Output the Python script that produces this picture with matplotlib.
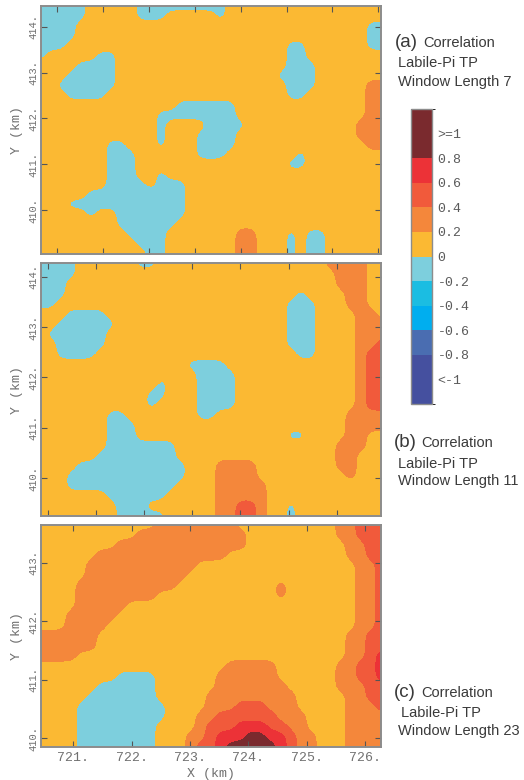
"""
Correlation maps, Labile-Pi vs TP, three window lengths
"""

import matplotlib
matplotlib.use('Agg')  # no display
import matplotlib.pyplot as plt
import numpy as np
from matplotlib.colors import ListedColormap, BoundaryNorm
from matplotlib.cm import ScalarMappable

# colour classes of the correlation
level_bounds = [-1.2, -0.8, -0.6, -0.4, -0.2, 0.0, 0.2, 0.4, 0.6, 0.8, 1.2]
level_colors = ['#45509f', '#4a6db1', '#00aeef', '#1bbde2', '#7dcfdd',
                '#fbb933', '#f4873b', '#f15a3b', '#ec3237', '#7a2a2e']
cbar_ticks = [-1.0, -0.8, -0.6, -0.4, -0.2, 0.0, 0.2, 0.4, 0.6, 0.8, 1.0]
cbar_labels = ['<-1', '-0.8', '-0.6', '-0.4', '-0.2', '0',
               '0.2', '0.4', '0.6', '0.8', '>=1']

# class code -> correlation value at a grid node
class_value = {'b': -0.1, 'y': 0.1, 'o': 0.3, 'r': 0.5, 'R': 0.7, 'D': 0.9}

# map extents in km (x0, x1, y0, y1)
extent_a = (719.64, 727.06, 409.06, 414.45)
extent_b = (719.86, 726.92, 409.25, 414.26)
extent_c = (720.45, 726.27, 409.86, 413.65)

xticks_a = [720, 721, 722, 723, 724, 725, 726, 727]
xticks_b = [720, 721, 722, 723, 724, 725, 726]
xticks_c = [721, 722, 723, 724, 725, 726]
yticks_a = [410, 411, 412, 413, 414]
yticks_b = [410, 411, 412, 413, 414]
yticks_c = [410, 411, 412, 413]

panel_tags = ['(a)', '(b)', '(c)']
window_lengths = [7, 11, 23]

# grids, top row first, west -> east
grid_a = [
    "bbbbb yyyyy bbbbb bbbby yyyyb yyyyy yyyyy",
    "bbbbb yyyyy bbbyy yyyby yyyyy yyyyy yyyyy",
    "bbbby yyyyy yyyyy yyyyy yyyyy yyyyy yyybb",
    "bbbby yyyyy yyyyy yyyyy yyyyy yyyyy yyybb",
    "bbbyy yyyyy yyyyy yyyyy yyyyy bbyyy yyybb",
    "byyyy ybbyy yyyyy yyyyy yyyyy bbyyy yyyyy",
    "yyyyb bbbyy yyyyy yyyyy yyyyy bbbyy yyyyy",
    "yyybb bbbyy yyyyy yyyyy yyyyb bbbyy yyyyy",
    "yybbb bbbyy yyyyy yyyyy yyyyy bbbyy yyyoo",
    "yyybb bbyyy yyyyy yyyyy yyyyy bbyyy yyyoo",
    "yyyyy yyyyy yyyyb bbbbb yyyyy yyyyy yyyoo",
    "yyyyy yyyyy yybbb bbbbb yyyyy yyyyy yyyoo",
    "yyyyy yyyyy yybyy yybbb byyyy yyyyy yyooo",
    "yyyyy yyyyy yybyy ybbbb yyyyy yyyyy yyooo",
    "yyyyy yybby yybyy ybbbb yyyyy yyyyy yyyoo",
    "yyyyy yybbb yyyyy ybbby yyyyy ybyyy yyyyy",
    "yyyyy yybbb yyyyy yyyyy yyyyy bbyyy yyyyy",
    "yyyyy yybbb yybyy yyyyy yyyyy yyyyy yyyyy",
    "yyyyy yybbb bybbb yyyyy yyyyy yyyyy yyyyy",
    "yyyyy bbbbb bbbbb yyyyy yyyyy yyyyy yyyyy",
    "yyybb bbbbb bbbbb yyyyy yyyyy yyyyy yyyyy",
    "yyyyy byybb bbbbb yyyyy yyyyy yyyyy yyyyy",
    "yyyyy yyybb bbbby yyyyy yyyyy yyyyy yyyyy",
    "yyyyy yyyyb bbbyy yyyyy ooyyy bybby yyyyy",
    "yyyyy yyyyy bbbyy yyyyy ooyyy bybby yyyyy",
    "yyyyy yyyyy ybbyy yyyyy ooyyy bybby yyyyy",
]

grid_b = [
    "bbbby yyyyy bbyyy yyyyy yyyyy yyyyo oooyy",
    "bbbby yyyyy yyyyy yyyyy yyyyy yyyyy oooyy",
    "bbbyy yyyyy yyyyy yyyyy yyyyy yyyyy oooyy",
    "bbbyy yyyyy yyyyy yyyyy yyyyy ybyyy yooyy",
    "bbyyy yyyyy yyyyy yyyyy yyyyy bbbyy yooyy",
    "yyybb bbyyy yyyyy yyyyy yyyyy bbbyy yyooy",
    "yybbb bbbyy yyyyy yyyyy yyyyy bbbyy yyooo",
    "ybbbb bbyyy yyyyy yyyyy yyyyy bbbyy yyooo",
    "yybbb bbyyy yyyyy yyyyy yyyyy bbbyy yyoor",
    "yybbb byyyy yyyyy yyyyy yyyyy ybbyy yyorr",
    "yyyyy yyyyy yyyyy bbbby yyyyy yyyyy yyorr",
    "yyyyy yyyyy yyyby ybbbb yyyyy yyyyy yyorr",
    "yyyyy yyyyy yybyy ybbbb yyyyy yyyyy yyorr",
    "yyyyy yyyyy ybbyy ybbbb yyyyy yyyyy yyorr",
    "yyyyy yyyyy ybyyy ybbbb yyyyy yyyyy yyorr",
    "yyyyy yybby yyyyy ybbyy yyyyy yyyyy yoooo",
    "yyyyy yybbb yyyyy yyyyy yyyyy yyyyy yoooo",
    "yyyyy yybbb yyyyy yyyyy yyyyy bbyyy yooyy",
    "yyyyy yybbb bbbby yyyyy yyyyy yyyyy oooyy",
    "yyyyy ybbbb bbbby yyyyy yyyyy yyyyy ooyyy",
    "yyyyb bbbbb bbbbb yyyoo ooyyy yyyyy ooyyy",
    "yyybb bbbbb bbbbb yyyoo ooyyy yyyyy yoyyy",
    "yyybb bbbbb bbbby yyyoo oooyy yyyyy yyyyy",
    "yyyyy yybbb bbbyy yyyoo oooyy yyyyy yyyyy",
    "yyyyy yyybb byyyy yyyoo rroyy byyyy yyyyy",
    "yyyyy yyybb bbbyy yyyoo rroyy byyyy yyyyy",
]

grid_c = [
    "yyyyy yyyyy yyooo ooooo yyyyy yyyyy oorrr",
    "yyyyy yyyyy ooooo ooooo oyyyy yyyyy oorrr",
    "yyyyy yyyoo ooooo ooooo oyyyy yyyyy yoorr",
    "yyyyy yoooo ooooo ooooy yyyyy yyyyy yoorr",
    "yyyyy ooooo ooooo oyyyy yyyyy yyyyy yyoor",
    "yyyyy ooooo ooooo yyyyy yyyyy yyyyy yyoor",
    "yyyyo ooooo ooooy yyyyy yyyyo yyyyy yyoor",
    "yyyyo ooooo ooyyy yyyyy yyyyo yyyyy yyoor",
    "yyyyo ooooy yyyyy yyyyy yyyyy yyyyy yyoor",
    "yyyoo oooyy yyyyy yyyyy yyyyy yyyyy yyoor",
    "yyyoo ooyyy yyyyy yyyyy yyyyy yyyyy yyoor",
    "ooooo oyyyy yyyyy yyyyy yyyyy yyyyy yoorr",
    "ooooo oyyyy yyyyy yyyyy yyyyy yyyyy yoorr",
    "ooooy yyyyy yyyyy yyyyy yyyyy yyyyy yoorR",
    "yyyyy yyyyy yyyyy yyyyo ooooy yyyyy oorrR",
    "yyyyy yyybb bbyyy yyyoo ooooy yyyyy oorrR",
    "yyyyy ybbbb bbyyy yyyoo ooooo yyyyy ooorr",
    "yyyyy bbbbb bbyyy yyooo ooooo oyyyy yoorr",
    "yyyyb bbbbb bbbyy yyooo rrroo oyyyy yooor",
    "yyyyb bbbbb bbbyy yoorr rrrro ooyyy yoooo",
    "yyyyb bbbbb bbyyy yorrr RRRrr ooyyy yoooo",
    "yyyyb bbbbb bbyyy oorRR RDDRR rooyy yoooo",
    "yyyyb bbbbb bbyyy orrRD DDDDR rooyy yoooo",
]

W, H = 524, 780
MONO = 'Liberation Mono'
SANS = 'Liberation Sans'
AXIS_GREY = '#707070'
FRAME_GREY = '#8c8c8c'
TEXT_DARK = '#3a3a3a'
REFINE = 4  # display refinement of the read grid
SMOOTH = [1, 12, 66, 220, 495, 792, 924, 792, 495, 220, 66, 12, 1]

cmap = ListedColormap(level_colors)
norm = BoundaryNorm(level_bounds, cmap.N)


def fig_xy(x, y):
    # pixel position (from top-left) -> figure fraction
    return x / W, 1 - y / H


def to_field(rows):
    z = np.array([[class_value[c] for c in r.replace(' ', '')] for r in rows])
    # refine the coarse grid bilinearly and round off the grid steps
    ny, nx = z.shape
    fx = np.linspace(0, nx - 1, (nx - 1) * REFINE + 1)
    fy = np.linspace(0, ny - 1, (ny - 1) * REFINE + 1)
    zx = np.array([np.interp(fx, np.arange(nx), row) for row in z])
    zf = np.array([np.interp(fy, np.arange(ny), col) for col in zx.T]).T
    kern = np.array(SMOOTH, float)
    kern /= kern.sum()
    pad = len(kern) // 2
    zp = np.pad(zf, pad, mode='edge')
    zp = np.apply_along_axis(lambda r: np.convolve(r, kern, mode='same'), 1, zp)
    zp = np.apply_along_axis(lambda c: np.convolve(c, kern, mode='same'), 0, zp)
    return zp[pad:-pad, pad:-pad]


def draw_panel(ax, rows, extent, xticks, yticks, show_x):
    z = to_field(rows)
    x0, x1, y0, y1 = extent
    xs = np.linspace(x0, x1, z.shape[1])
    ys = np.linspace(y1, y0, z.shape[0])
    cs = ax.contourf(xs, ys, z, levels=level_bounds, colors=level_colors)
    cs.set_edgecolor('face')
    cs.set_linewidth(0.3)
    ax.set_xlim(x0, x1)
    ax.set_ylim(y0, y1)

    ax.set_xticks(xticks)
    ax.set_yticks(yticks)
    ax.set_yticklabels([f'{v}.' for v in yticks], rotation=90, va='center',
                       family=MONO, fontsize=7.5, color=AXIS_GREY)
    if show_x:
        ax.set_xticklabels([f'{v}.' for v in xticks], family=MONO,
                           fontsize=9.5, color=AXIS_GREY)
        ax.set_xlabel('X (km)', family=MONO, fontsize=9.5, color=AXIS_GREY,
                      labelpad=3)
    else:
        ax.set_xticklabels([])
    ax.set_ylabel('Y (km)', family=MONO, fontsize=9.5, color=AXIS_GREY)
    ax.yaxis.set_label_coords(-0.052, 0.5)

    ax.tick_params(direction='in', length=4, width=0.8, color='#555555',
                   top=True, right=True)
    ax.tick_params(axis='y', pad=1.5)
    for s in ax.spines.values():
        s.set_color(FRAME_GREY)
        s.set_linewidth(1.4)


fig = plt.figure(figsize=(W / 100, H / 100), dpi=100)

ax_a = fig.add_axes([41 / W, 0.67500, 340 / W, 0.31731])
ax_b = fig.add_axes([41 / W, 0.33846, 340 / W, 0.32372])
ax_c = fig.add_axes([41 / W, 0.04269, 340 / W, 0.28487])

draw_panel(ax_a, grid_a, extent_a, xticks_a, yticks_a, False)
draw_panel(ax_b, grid_b, extent_b, xticks_b, yticks_b, False)
draw_panel(ax_c, grid_c, extent_c, xticks_c, yticks_c, True)

# colour bar
cax = fig.add_axes([411 / W, 1 - 404 / H, 21 / W, 295 / H])
cb = fig.colorbar(ScalarMappable(norm=norm, cmap=cmap), cax=cax,
                  boundaries=level_bounds, ticks=cbar_ticks,
                  spacing='proportional')
cb.ax.set_yticklabels(cbar_labels, family=MONO, fontsize=9.5, color='#5a5a5a')
cb.ax.tick_params(length=0, pad=4)
cb.outline.set_edgecolor(FRAME_GREY)
cb.outline.set_linewidth(1.0)

# panel captions: (tag x, tag baseline, corr x, line2 x, line2 base, line3 x, line3 base)
caption_pos = [
    (395, 47.3, 423, 398, 66.7, 398, 85.7),
    (394, 446.7, 421.7, 397.7, 467.7, 397.7, 485.0),
    (394, 696.7, 421.7, 401, 716.7, 397.7, 735.0),
]
for tag, wl, pos in zip(panel_tags, window_lengths, caption_pos):
    tx, tb, cx, lx, lb, wx, wb = pos
    fig.text(*fig_xy(tx, tb), tag, family=SANS, fontsize=13.5,
             color=TEXT_DARK, va='baseline')
    fig.text(*fig_xy(cx, tb), 'Correlation', family=SANS, fontsize=10.5,
             color=TEXT_DARK, va='baseline')
    fig.text(*fig_xy(lx, lb), 'Labile-Pi TP', family=SANS, fontsize=10.5,
             color=TEXT_DARK, va='baseline')
    fig.text(*fig_xy(wx, wb), f'Window Length {wl}', family=SANS,
             fontsize=10.5, color=TEXT_DARK, va='baseline')

plt.savefig('out.png', dpi=100)
plt.close()
